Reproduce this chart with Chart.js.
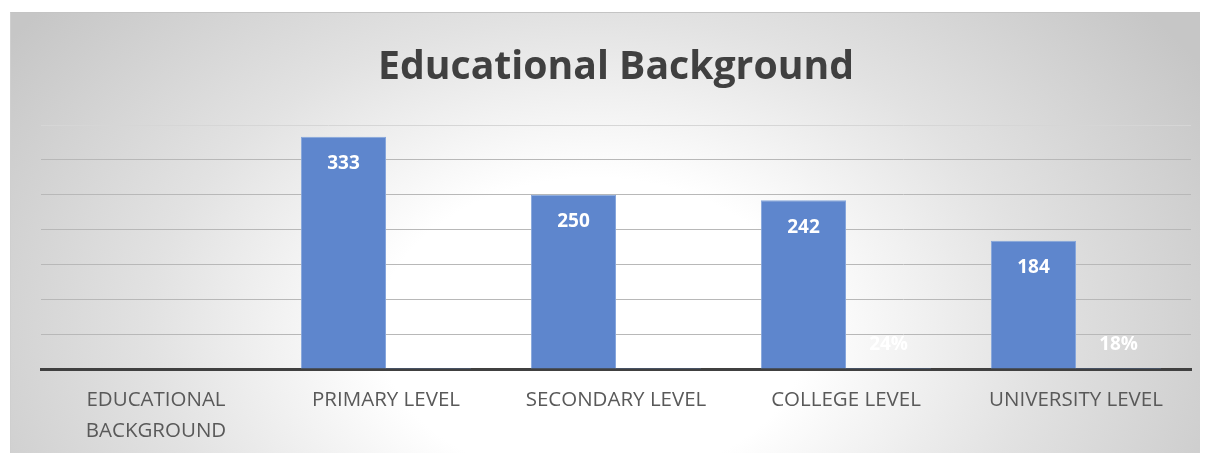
<!DOCTYPE html>
<html>
<head>
<meta charset="utf-8">
<script src="https://cdn.jsdelivr.net/npm/chart.js@4.4.1/dist/chart.umd.min.js"></script>
<style>
  html, body { margin: 0; padding: 0; background: #ffffff; }
  body { width: 1208px; height: 453px; position: relative; overflow: hidden; }
  #frame {
    position: absolute; left: 10px; top: 12px; width: 1190px; height: 441px;
    background: radial-gradient(ellipse 60% 115% at 49% 72%, #ffffff 0%, #ffffff 30%, #e2e2e2 62%, #c6c6c6 100%);
    border-top: 1px solid #c4c4c4;
    border-left: 1px solid #cfcfcf;
    box-sizing: border-box;
  }
  canvas { position: absolute; left: -1px; top: -1px; }
</style>
</head>
<body>
<div id="frame"><canvas id="c" width="1190" height="441"></canvas></div>
<script>
const chartTitle = 'Educational Background';
const categories = [['EDUCATIONAL', 'BACKGROUND'], 'PRIMARY LEVEL', 'SECONDARY LEVEL', 'COLLEGE LEVEL', 'UNIVERSITY LEVEL'];
const counts = [null, 333, 250, 242, 184];
const percents = [null, 0.33, 0.25, 0.24, 0.18];
const yMin = 0, yMax = 350, yStep = 50;

const FONT = "'Open Sans', 'Noto Sans', sans-serif";

const labelPlugin = {
  id: 'labelPlugin',
  afterDatasetsDraw(chart) {
    const ctx = chart.ctx;
    ctx.save();
    ctx.textAlign = 'center';
    ctx.textBaseline = 'middle';
    ctx.fillStyle = '#ffffff';
    ctx.font = 'bold 19px ' + FONT;
    chart.data.datasets.forEach((ds, di) => {
      const meta = chart.getDatasetMeta(di);
      meta.data.forEach((bar, i) => {
        const v = ds.data[i];
        if (v === null || v === undefined) return;
        if (di === 0) {
          ctx.fillText(String(v), bar.x, bar.y + 27);
        } else {
          ctx.fillText(Math.round(v * 100) + '%', bar.x, bar.y - 24);
        }
      });
    });
    ctx.restore();
  },
  afterDraw(chart) {
    const ctx = chart.ctx;
    ctx.save();
    let size = 100;
    ctx.font = 'bold ' + size + 'px ' + FONT;
    const w = ctx.measureText(chartTitle).width;
    size = size * 476 / w;
    ctx.font = 'bold ' + size.toFixed(2) + 'px ' + FONT;
    ctx.fillStyle = '#404040';
    ctx.textAlign = 'center';
    ctx.textBaseline = 'middle';
    const ca = chart.chartArea;
    ctx.fillText(chartTitle, (ca.left + ca.right) / 2, 56);
    ctx.restore();
  }
};

new Chart(document.getElementById('c'), {
  type: 'bar',
  data: {
    labels: categories,
    datasets: [
      {
        label: 'Count',
        data: counts,
        backgroundColor: '#5e86cd',
        borderColor: '#86a6dc',
        borderWidth: 1,
        barPercentage: 1.0,
        categoryPercentage: 0.74
      },
      {
        label: 'Percent',
        data: percents,
        backgroundColor: '#5e86cd',
        borderWidth: 0,
        barPercentage: 1.0,
        categoryPercentage: 0.74
      }
    ]
  },
  options: {
    responsive: false,
    animation: false,
    devicePixelRatio: 1,
    layout: { padding: { left: 31, right: 9, top: 113, bottom: 0 } },
    plugins: {
      legend: { display: false },
      title: { display: false },
      tooltip: { enabled: false }
    },
    scales: {
      x: {
        grid: { display: false, drawTicks: false },
        border: { display: true, color: '#404040', width: 3 },
        ticks: {
          color: '#595959',
          font: { family: FONT, size: 20.5, lineHeight: '31px' },
          padding: 16,
          maxRotation: 0,
          autoSkip: false
        },
        afterFit(scale) { scale.height = 84; }
      },
      y: {
        min: yMin,
        max: yMax,
        ticks: { stepSize: yStep, display: false },
        grid: {
          color: (c) => c.tick && c.tick.value === yMax ? '#d6d6d6' : '#b8b8b8',
          lineWidth: 1,
          drawTicks: false
        },
        border: { display: false },
        afterFit(scale) { scale.width = 0; }
      }
    }
  },
  plugins: [labelPlugin]
});
</script>
</body>
</html>
